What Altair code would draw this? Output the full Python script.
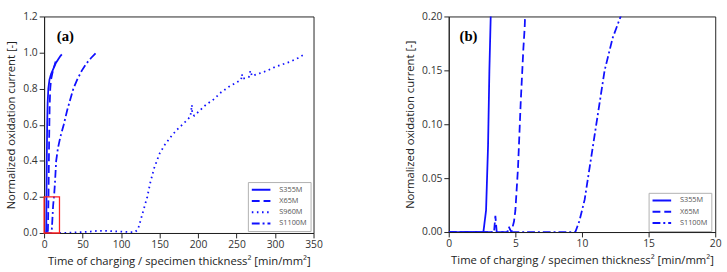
import altair as alt
import pandas as pd

# ---------------- data ----------------
series_all = ["S355M", "X65M", "S960M", "S1100M"]

s355m_t = [0, 2.6, 2.8, 2.95, 3.05, 3.15, 3.3, 3.6, 4.0, 4.6, 5.5, 7, 9, 12, 15, 18, 21, 23]
s355m_i = [0, 0, 0.02, 0.08, 0.15, 0.2, 0.3, 0.45, 0.6, 0.72, 0.8, 0.85, 0.88, 0.91, 0.94, 0.96, 0.98, 0.99]

x65m_t = [0, 3.4, 3.5, 3.6, 4.4, 4.5, 4.7, 4.9, 5.0, 5.2, 5.4, 5.6, 5.7, 6.0, 6.5, 7.2, 8, 9, 11, 13, 15]
x65m_i = [0, 0, 0.015, 0, 0, 0.005, 0, 0.01, 0.02, 0.06, 0.12, 0.17, 0.19, 0.3, 0.5, 0.7, 0.8, 0.85, 0.89, 0.92, 0.95]

s960m_t = [20, 40, 60, 70, 80, 90, 100, 110, 118, 122, 126, 130, 134, 138, 143, 150, 157, 164, 172, 182,
           190, 192, 192.5, 195, 200, 210, 220, 230, 240, 250, 256, 257, 258, 266, 268, 270, 280, 290,
           300, 310, 320, 330, 336]
s960m_i = [0, 0.003, 0.008, 0.012, 0.012, 0.01, 0.008, 0.005, 0.005, 0.02, 0.08, 0.14, 0.2, 0.28, 0.36,
           0.44, 0.49, 0.53, 0.57, 0.61, 0.645, 0.71, 0.66, 0.65, 0.67, 0.71, 0.74, 0.78, 0.81, 0.835,
           0.85, 0.88, 0.855, 0.865, 0.9, 0.87, 0.885, 0.9, 0.92, 0.935, 0.95, 0.97, 0.985]

s1100m_t = [0, 9.5, 9.8, 10.2, 10.7, 11.2, 11.7, 12.3, 12.9, 14, 15.7, 18, 21, 25.5, 30, 38, 43, 49, 55, 61, 68]
s1100m_i = [0, 0, 0.01, 0.03, 0.07, 0.11, 0.15, 0.18, 0.2, 0.27, 0.4, 0.47, 0.53, 0.6, 0.68, 0.8, 0.85,
            0.9, 0.94, 0.97, 1.0]

x_ticks_a = [0, 50, 100, 150, 200, 250, 300, 350]
y_ticks_a = [0.0, 0.2, 0.4, 0.6, 0.8, 1.0, 1.2]
x_ticks_b = [0, 5, 10, 15, 20]
y_ticks_b = [0.0, 0.05, 0.10, 0.15, 0.20]

zoom_box = {"x": [0], "x2": [20], "y": [0], "y2": [0.2]}


def frame(name, t, i):
    return pd.DataFrame({"t": t, "i": i, "series": name, "idx": list(range(len(t)))})


df = pd.concat([
    frame("S355M", s355m_t, s355m_i),
    frame("X65M", x65m_t, x65m_i),
    frame("S960M", s960m_t, s960m_i),
    frame("S1100M", s1100m_t, s1100m_i),
], ignore_index=True)

dash_of = {"S355M": [1, 0], "X65M": [8, 4], "S960M": [1.6, 3.6], "S1100M": [8, 3, 2, 3]}

FONT = "Open Sans"
BLUE = "#1010ff"


def panel(names, xdom, xticks, ydom, yticks, yfmt, w, h, leg_x, leg_y, label, lab_x, lab_y, box):
    data = df[df["series"].isin(names)]
    xaxis = alt.Axis(values=xticks, format="d", labelOverlap=False, labelFlush=False,
                     title="Time of charging / specimen thickness\u00b2 [min/mm\u00b2]")
    yaxis = alt.Axis(values=yticks, format=yfmt, labelOverlap=False, labelFlush=False,
                     title="Normalized oxidation current [-]")
    xscale = alt.Scale(domain=xdom, nice=False, zero=False)
    yscale = alt.Scale(domain=ydom, nice=False, zero=False)
    lines = alt.Chart(data).mark_line(clip=True, strokeWidth=1.8, color=BLUE).encode(
        x=alt.X("t:Q", scale=xscale, axis=xaxis),
        y=alt.Y("i:Q", scale=yscale, axis=yaxis),
        strokeDash=alt.StrokeDash(
            "series:N",
            scale=alt.Scale(domain=names, range=[dash_of[n] for n in names]),
            sort=names,
            legend=alt.Legend(title=None, orient="none", legendX=leg_x, legendY=leg_y,
                              symbolType="stroke", symbolSize=361, symbolStrokeWidth=2,
                              symbolStrokeColor=BLUE, labelFont=FONT, labelFontSize=7.5,
                              labelColor="#555555", labelOffset=8, padding=3, rowPadding=1.5,
                              clipHeight=9.5,
                              strokeColor="#b0b0b0", fillColor="white", cornerRadius=0),
        ),
        order="idx:Q",
    )
    layers = [lines]
    if box:
        rect = alt.Chart(pd.DataFrame(zoom_box)).mark_rect(
            fillOpacity=0, stroke="#ff2020", strokeWidth=1.3).encode(
            x=alt.X("x:Q", scale=xscale, axis=xaxis), x2="x2:Q",
            y=alt.Y("y:Q", scale=yscale, axis=yaxis), y2="y2:Q")
        layers.append(rect)
    txt = alt.Chart(pd.DataFrame({"label": [label]})).mark_text(
        font="Liberation Serif", fontWeight="bold", fontSize=15, color="black", align="left",
        baseline="middle").encode(x=alt.value(lab_x), y=alt.value(lab_y), text="label:N")
    layers.append(txt)
    return alt.layer(*layers).properties(width=w, height=h)


pa = panel(series_all, [0, 350], x_ticks_a, [0, 1.2], y_ticks_a, ".1f", 275, 221,
           208, 169, "(a)", 13, 20, True)
pb = panel(["S355M", "X65M", "S1100M"], [0, 20], x_ticks_b, [0, 0.2], y_ticks_b, ".2f", 272, 220,
           204, 180, "(b)", 11, 20, False)

chart = alt.hconcat(pa, pb, spacing=82).resolve_scale(
    strokeDash="independent", x="independent", y="independent"
).resolve_legend(strokeDash="independent").configure(
    padding={"left": 5, "top": 8, "right": 5, "bottom": 2},
    background="white",
).configure_view(
    stroke="#222222", strokeWidth=1
).configure_axis(
    grid=False, labelFont=FONT, labelFontSize=10.5, labelColor="#333333",
    titleFont=FONT, titleFontSize=11.5, titleFontWeight="normal", titleColor="#222222",
    domainColor="#222222", tickColor="#222222", tickSize=5, labelPadding=2, titlePadding=6,
)

chart.save("out.html", embed_options={"renderer": "svg", "actions": False})
